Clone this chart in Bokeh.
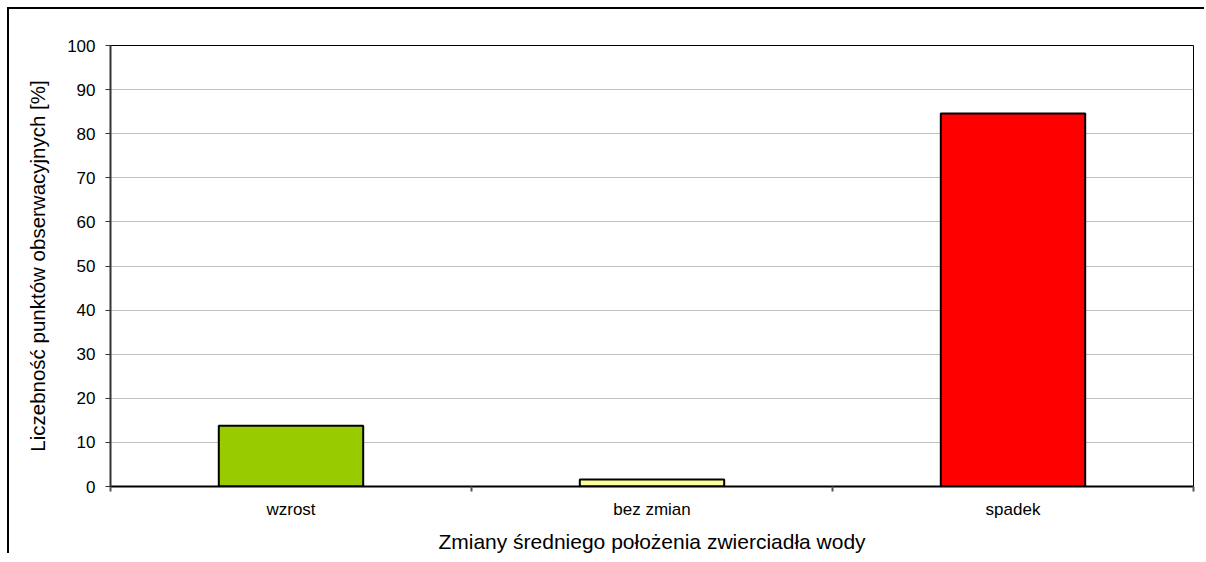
from bokeh.plotting import figure
from bokeh.models import Range1d, FixedTicker
from bokeh.embed import file_html
from bokeh.resources import INLINE

categories = ["wzrost", "bez zmian", "spadek"]
values = [13.8, 1.6, 84.6]
colors = ["#99CC00", "#FFFF99", "#FF0000"]
y_ticks = [0, 10, 20, 30, 40, 50, 60, 70, 80, 90, 100]
x_title = "Zmiany średniego położenia zwierciadła wody"
y_title = "Liczebność punktów obserwacyjnych [%]"

FONT = "Liberation Sans"

n = len(categories)
xs = [i + 0.5 for i in range(n)]

p = figure(width=1197, height=546, output_backend="svg", toolbar_location=None,
           x_range=Range1d(0, n), y_range=Range1d(0, 100),
           min_border_left=101, min_border_right=13, min_border_top=36, min_border_bottom=68)
p.styles = {"border-left": "2px solid black", "border-top": "2px solid black",
            "margin-left": "7px", "margin-top": "7px"}

p.vbar(x=xs, top=values, width=0.4, bottom=0, fill_color=colors,
       line_color="black", line_width=2)

p.background_fill_color = "white"
p.border_fill_color = "white"
p.outline_line_color = "black"
p.outline_line_width = 1

p.xgrid.grid_line_color = None
p.ygrid.grid_line_color = "#C0C0C0"
p.ygrid.grid_line_width = 1
p.ygrid.ticker = FixedTicker(ticks=y_ticks)

# y axis
p.yaxis.ticker = FixedTicker(ticks=y_ticks)
p.yaxis.axis_line_color = "#333333"
p.yaxis.axis_line_width = 2
p.yaxis.major_tick_out = 5
p.yaxis.major_tick_in = 0
p.yaxis.major_tick_line_color = "#333333"
p.yaxis.minor_tick_line_color = None
p.yaxis.major_label_standoff = 10
p.yaxis.major_label_text_font = FONT
p.yaxis.major_label_text_font_size = "17px"
p.yaxis.major_label_text_color = "black"
p.yaxis.axis_label = y_title
p.yaxis.axis_label_text_font = FONT
p.yaxis.axis_label_text_font_size = "20.5px"
p.yaxis.axis_label_text_font_style = "normal"
p.yaxis.axis_label_text_color = "black"
p.yaxis.axis_label_standoff = 15

# x axis: labels at category centres, ticks at category boundaries
p.xaxis.ticker = FixedTicker(ticks=xs, minor_ticks=list(range(n + 1)))
p.xaxis.major_label_overrides = {x: c for x, c in zip(xs, categories)}
p.xaxis.axis_line_color = "black"
p.xaxis.axis_line_width = 2
p.xaxis.major_tick_line_color = None
p.xaxis.major_tick_out = 5
p.xaxis.major_tick_in = 0
p.xaxis.minor_tick_line_color = "#555555"
p.xaxis.minor_tick_line_width = 2
p.xaxis.minor_tick_out = 5
p.xaxis.minor_tick_in = 0
p.xaxis.major_label_standoff = 8
p.xaxis.major_label_text_font = FONT
p.xaxis.major_label_text_font_size = "17px"
p.xaxis.major_label_text_color = "black"
p.xaxis.axis_label = x_title
p.xaxis.axis_label_text_font = FONT
p.xaxis.axis_label_text_font_size = "21px"
p.xaxis.axis_label_text_font_style = "normal"
p.xaxis.axis_label_text_color = "black"
p.xaxis.axis_label_standoff = 8

open("out.html", "w").write(file_html(p, INLINE))
